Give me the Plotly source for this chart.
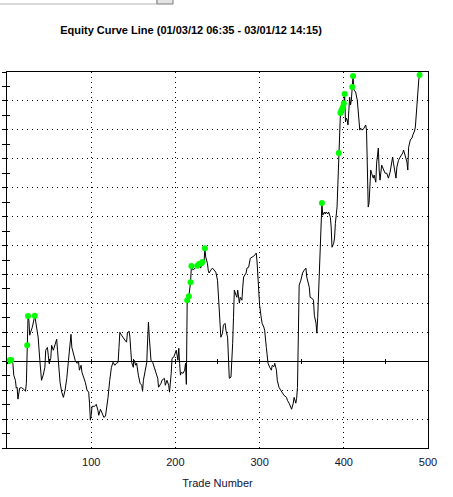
import plotly.graph_objects as go

trades = [0,1,2,3,4,5,7,8,10,11,12,13,15,17,20,22,23,24,25,26,27,28,30,33,35,37,39,41,43,45,46,48,49,50,52,53,55,57,59,60,61,63,65,67,69,71,73,75,76,77,79,81,83,85,86,88,89,91,93,95,97,98,99,100,101,104,106,108,109,111,113,115,117,118,120,122,124,126,128,130,132,133,134,136,138,140,142,143,145,146,147,148,150,151,153,154,156,158,160,161,162,164,166,167,168,169,170,171,173,175,177,179,180,183,184,187,188,190,192,193,195,196,198,200,201,203,204,205,206,207,209,211,212,213,214,216,218,219,221,222,224,226,228,230,231,232,234,235,236,238,239,240,242,244,246,248,250,251,253,254,256,257,259,260,262,263,264,266,267,268,269,270,272,273,274,276,277,279,280,281,284,285,287,289,291,293,295,296,297,298,299,300,302,303,305,306,308,309,310,312,314,315,317,318,320,321,323,325,327,329,332,333,335,336,338,340,341,343,344,345,346,347,349,351,353,355,356,357,359,360,362,364,365,367,368,369,370,371,372,374,375,377,378,379,381,382,384,385,386,388,389,390,392,394,396,397,398,399,400,401,402,403,404,405,406,407,408,409,410,411,412,414,416,417,418,419,420,422,424,426,427,428,429,430,431,432,433,434,435,436,438,439,441,442,443,445,447,449,451,453,455,457,458,459,461,462,463,465,467,469,470,471,473,475,476,477,479,481,482,484,485,486,487,488,489,490]

equity = [0,10,20,25,35,40,-70,-480,-660,-930,-900,-1310,-930,-910,-970,-1040,-760,550,1560,1420,900,1000,1170,1570,1250,830,30,-660,-480,-210,380,480,210,-70,100,550,380,550,760,380,-70,-730,-1070,-1250,-1000,-590,30,730,930,480,210,30,-70,-30,-310,-140,-380,-550,-730,-1000,-1070,-1450,-2040,-1870,-1560,-1560,-1490,-1700,-1870,-1660,-1800,-1940,-1900,-1700,-1250,-660,-210,-35,-140,-70,-35,480,1000,900,800,730,660,970,1040,830,380,-35,-210,35,-140,-70,-480,-760,-830,-1040,-660,-380,-35,730,1350,830,380,35,-35,-210,-420,-590,-900,-760,-660,-590,-830,-660,-830,-1070,-420,100,140,280,380,35,450,-70,-480,-380,-420,-310,-70,-800,2110,2250,2730,3290,3150,3180,3250,3300,3360,3220,3390,3430,3390,3910,3600,3390,3150,3050,3150,3220,3150,3080,2800,2210,1520,830,970,1250,1310,1070,830,140,-590,-550,-35,620,1520,2460,2280,2210,2460,2010,2210,2110,2560,2910,3050,3220,3250,3560,3600,3630,3700,3740,3430,2910,2210,1940,1490,1310,1180,1070,480,140,-70,-210,-310,-140,-190,-70,-310,-660,-900,-1000,-1110,-1180,-1250,-1350,-1450,-1520,-1660,-1450,-1250,-1450,-1280,-900,620,2630,2800,3050,3150,3220,2910,2800,2560,2210,2180,2110,1590,1310,970,1520,2210,2910,3850,5470,5050,5160,5090,5160,5090,5160,4980,4640,3940,4080,4260,4770,5330,7200,8580,8660,8720,8790,8920,9240,8270,8410,8340,8170,8680,9130,8860,9030,9480,9860,9380,9310,9030,8680,8100,7990,8060,7990,8060,8170,7990,6950,5330,5470,5920,6610,6500,6370,6330,6440,6190,6850,7370,6610,6260,6780,6610,6500,6500,6330,6540,6950,7060,6850,6500,6330,6710,6950,7060,7130,7200,7300,7060,6890,6610,7400,7650,7720,7820,7960,8100,8410,8930,9310,9720,9900]

title_text = "Equity Curve Line (01/03/12 06:35 - 03/01/12 14:15)"
x_title = "Trade Number"
x_ticks = [100, 200, 300, 400, 500]

# new equity highs (green markers)
hi_x, hi_y = [], []
best = None
for t, v in zip(trades, equity):
    if best is None or v > best:
        best = v
        hi_x.append(t)
        hi_y.append(v)

FONT = "Arial, Liberation Sans, sans-serif"

fig = go.Figure()
fig.add_trace(go.Scatter(x=trades, y=equity, mode="lines",
                         line=dict(color="black", width=1), hoverinfo="skip"))
fig.add_trace(go.Scatter(x=hi_x, y=hi_y, mode="markers",
                         marker=dict(color="#00FF00", size=6, line=dict(width=0)),
                         hoverinfo="skip"))
# helper empty traces for the overlay tick axes
for xa, ya in [("x2", "y"), ("x3", "y"), ("x", "y2")]:
    fig.add_trace(go.Scatter(x=[None], y=[None], xaxis=xa, yaxis=ya,
                             showlegend=False, hoverinfo="skip"))

fig.update_layout(
    width=453, height=497,
    margin=dict(l=7, r=25, t=72, b=49, pad=0),
    paper_bgcolor="white", plot_bgcolor="white",
    showlegend=False,
    font=dict(family=FONT, size=11, color="black"),
    title=dict(text="<b>" + title_text + "</b>", x=191/453, xanchor="center",
               xref="container", yref="container", y=1-30/497, yanchor="middle",
               font=dict(family=FONT, size=11, color="black")),
    xaxis=dict(range=[0, 500], tickmode="array", tickvals=x_ticks,
               showgrid=True, gridcolor="black", gridwidth=1, griddash="1px,4px",
               showline=True, linecolor="black", linewidth=1, mirror=True,
               ticks="", zeroline=False, automargin=False, ticklabelstandoff=4,
               tickfont=dict(family=FONT, size=11, color="#111133"),
               title=dict(text=x_title, standoff=12,
                          font=dict(family=FONT, size=11, color="#111133"))),
    yaxis=dict(range=[-3000, 10000], tickmode="linear", tick0=0, dtick=1000,
               showgrid=True, gridcolor="black", gridwidth=1, griddash="1px,4px",
               showline=True, linecolor="black", linewidth=1, mirror=True,
               ticks="outside", ticklen=4, tickcolor="black", tickformat="d",
               minor=dict(dtick=500, tick0=0, ticks="outside", ticklen=4,
                          tickcolor="black", showgrid=False),
               zeroline=True, zerolinecolor="black", zerolinewidth=1,
               automargin=False,
               tickfont=dict(family=FONT, size=11, color="#111133")),
    yaxis2=dict(range=[-3000, 10000], overlaying="y", anchor="x", side="left",
                tickmode="linear", tick0=500, dtick=1000, ticks="inside", ticklen=3,
                tickcolor="black", showticklabels=False, showgrid=False,
                showline=False, zeroline=False),
    xaxis2=dict(range=[0, 500], overlaying="x", anchor="free", position=3/13,
                side="bottom", tickmode="linear", tick0=0, dtick=50,
                ticks="outside", ticklen=2, tickcolor="black",
                showticklabels=False, showgrid=False, showline=False, zeroline=False),
    xaxis3=dict(range=[0, 500], overlaying="x", anchor="free", position=3/13,
                side="bottom", tickmode="linear", tick0=0, dtick=50,
                ticks="inside", ticklen=2, tickcolor="black",
                showticklabels=False, showgrid=False, showline=False, zeroline=False),
    shapes=[
        # remnant of a combo box at the top edge of the window
        dict(type="rect", xref="paper", yref="paper",
             x0=-0.02, x1=(157-7)/421, y0=(448-4)/376, y1=(448+6)/376,
             line=dict(color="#b4b4b4", width=1), fillcolor="white"),
        dict(type="rect", xref="paper", yref="paper",
             x0=(157-7)/421, x1=(173-7)/421, y0=(448-4)/376, y1=(448+6)/376,
             line=dict(color="#7a7a7a", width=1), fillcolor="#e4e4e4"),
    ],
)

fig.write_html("out.html", config={"displayModeBar": False},
               post_script="document.body.style.margin='0px';document.body.style.padding='0px';")
